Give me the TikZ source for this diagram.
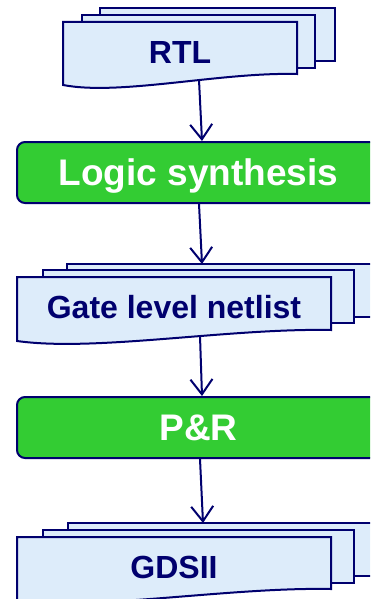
\documentclass[tikz,border=0pt]{standalone}
\usepackage{fontspec}
\setmainfont{Liberation Sans}
\usetikzlibrary{arrows.meta}
\definecolor{navy}{RGB}{0,0,110}
\definecolor{paper}{RGB}{221,236,250}
\definecolor{leaf}{RGB}{51,204,51}

\begin{document}
\begin{tikzpicture}[x=1pt, y=-1pt, >={Straight Barb[length=15pt,width=22pt]},
  sheet/.style={draw=navy, fill=paper, line width=2pt},
  doclabel/.style={text=navy, inner sep=0pt, text height=22.9pt, text depth=0pt,
    font=\bfseries\fontsize{32}{38}\selectfont},
  procbox/.style={draw=navy, fill=leaf, line width=2pt, rounded corners=8pt,
    minimum width=363pt, minimum height=61pt, text=white, text height=26.5pt,
    text depth=0pt, font=\bfseries\fontsize{37}{44}\selectfont},
  flow/.style={->, draw=navy, line width=2pt}]

\useasboundingbox (0,0) rectangle (370,599);
\clip (0,0) rectangle (370,599);

\draw[sheet] (100,8) rectangle (335,61);
\draw[sheet] (82,15) rectangle (315,68);
\draw[sheet] (63,22) -- (297,22) -- (297,74) .. controls (220,72) and (120,96) .. (63,85) -- cycle;
\node[doclabel] (rtl) at (180,52) {RTL};
\coordinate (rtl-out) at (199,80);

\node[procbox] (logic) at (198.5,172.5) {Logic synthesis};

\draw[sheet] (67,264) rectangle (381,317);
\draw[sheet] (43,270) rectangle (354,323);
\draw[sheet] (17,277) -- (331,277) -- (331,330) .. controls (228,328) and (95,352) .. (17,341) -- cycle;
\node[doclabel] (gate) at (174,307.5) {Gate level netlist};
\coordinate (gate-in) at (202,264);
\coordinate (gate-out) at (200,336);

\node[procbox] (pr) at (198.5,427.5) {P\&R};

\draw[sheet] (68,523) rectangle (382,576);
\draw[sheet] (43,530) rectangle (354,583);
\draw[sheet] (17,537) -- (331,537) -- (331,589) .. controls (228,587) and (95,611) .. (17,600) -- cycle;
\node[doclabel] (gds) at (174,567) {GDSII};
\coordinate (gds-in) at (203,523);

\draw[flow] (rtl-out) -- ([xshift=3.5pt]logic.north);
\draw[flow] ([xshift=0.5pt]logic.south) -- (gate-in);
\draw[flow] (gate-out) -- ([xshift=3.5pt]pr.north);
\draw[flow] ([xshift=1.5pt]pr.south) -- (gds-in);

\end{tikzpicture}
\end{document}
